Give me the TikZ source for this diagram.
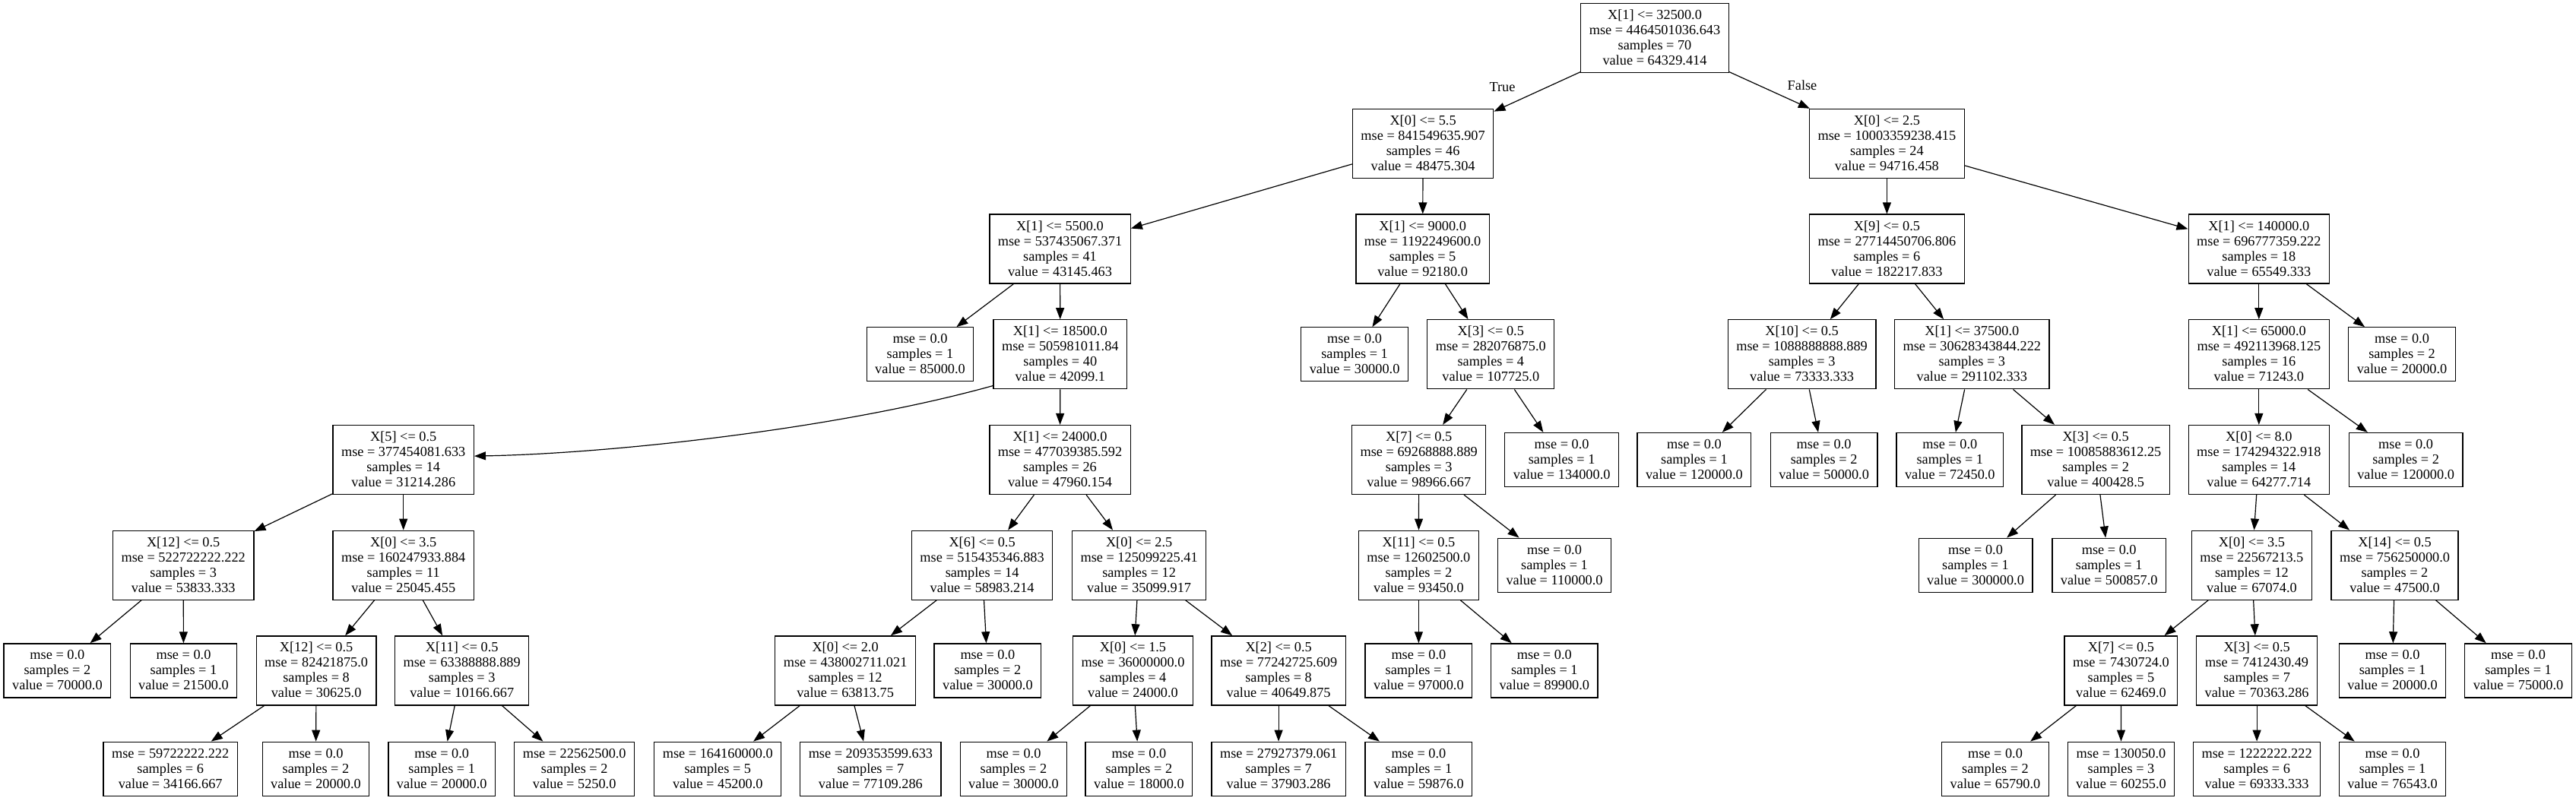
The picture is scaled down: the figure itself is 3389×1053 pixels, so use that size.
\documentclass[tikz,border=0pt]{standalone}
\usepackage{fontspec}
\setmainfont{Liberation Serif}
\usetikzlibrary{arrows.meta}
\newcommand\Ls{\rule[-4.5pt]{0pt}{20pt}}
\newcommand\QN[4]{\Ls #1\\\Ls #2\\\Ls #3\\\Ls #4}
\newcommand\LN[3]{\Ls #1\\\Ls #2\\\Ls #3}
\tikzset{
  tn/.style={draw, line width=1.3pt, rectangle, align=center, inner xsep=11pt, inner ysep=5.5pt,
    font=\fontsize{18.3}{20}\selectfont},
  conn/.style={-{Triangle[length=15pt,width=11pt]}, line width=1.2pt},
  lbl/.style={font=\fontsize{18.3}{20}\selectfont, inner sep=0pt},
}
\begin{document}
\begin{tikzpicture}[x=1pt,y=-1pt]
\path[use as bounding box, fill=white] (0,0) rectangle (3389,1053);
% rank 0
\node[tn] (n0) at (2177,50.2) {\QN{X[1] <= 32500.0}{mse = 4464501036.643}{samples = 70}{value = 64329.414}};
% rank 1
\node[tn] (n1) at (1872.1,188.9) {\QN{X[0] <= 5.5}{mse = 841549635.907}{samples = 46}{value = 48475.304}};
\node[tn] (n2) at (2482.4,188.9) {\QN{X[0] <= 2.5}{mse = 10003359238.415}{samples = 24}{value = 94716.458}};
% rank 2
\node[tn] (n3) at (1394.5,327.6) {\QN{X[1] <= 5500.0}{mse = 537435067.371}{samples = 41}{value = 43145.463}};
\node[tn] (n4) at (1871.6,327.6) {\QN{X[1] <= 9000.0}{mse = 1192249600.0}{samples = 5}{value = 92180.0}};
\node[tn] (n5) at (2482.4,327.6) {\QN{X[9] <= 0.5}{mse = 27714450706.806}{samples = 6}{value = 182217.833}};
\node[tn] (n6) at (2971.8,327.6) {\QN{X[1] <= 140000.0}{mse = 696777359.222}{samples = 18}{value = 65549.333}};
% rank 3
\node[tn] (n7) at (1210.5,466.3) {\LN{mse = 0.0}{samples = 1}{value = 85000.0}};
\node[tn] (n8) at (1394.8,466.3) {\QN{X[1] <= 18500.0}{mse = 505981011.84}{samples = 40}{value = 42099.1}};
\node[tn] (n9) at (1782.1,466.3) {\LN{mse = 0.0}{samples = 1}{value = 30000.0}};
\node[tn] (n10) at (1961.3,466.3) {\QN{X[3] <= 0.5}{mse = 282076875.0}{samples = 4}{value = 107725.0}};
\node[tn] (n11) at (2370.6,466.3) {\QN{X[10] <= 0.5}{mse = 1088888888.889}{samples = 3}{value = 73333.333}};
\node[tn] (n12) at (2594.3,466.3) {\QN{X[1] <= 37500.0}{mse = 30628343844.222}{samples = 3}{value = 291102.333}};
\node[tn] (n13) at (2971.8,466.3) {\QN{X[1] <= 65000.0}{mse = 492113968.125}{samples = 16}{value = 71243.0}};
\node[tn] (n14) at (3160,466.3) {\LN{mse = 0.0}{samples = 2}{value = 20000.0}};
% rank 4
\node[tn] (n15) at (530.7,605) {\QN{X[5] <= 0.5}{mse = 377454081.633}{samples = 14}{value = 31214.286}};
\node[tn] (n16) at (1394.5,605) {\QN{X[1] <= 24000.0}{mse = 477039385.592}{samples = 26}{value = 47960.154}};
\node[tn] (n17) at (1866.7,605) {\QN{X[7] <= 0.5}{mse = 69268888.889}{samples = 3}{value = 98966.667}};
\node[tn] (n18) at (2054.6,605) {\LN{mse = 0.0}{samples = 1}{value = 134000.0}};
\node[tn] (n19) at (2228.9,605) {\LN{mse = 0.0}{samples = 1}{value = 120000.0}};
\node[tn] (n20) at (2399.6,605) {\LN{mse = 0.0}{samples = 2}{value = 50000.0}};
\node[tn] (n21) at (2565.3,605) {\LN{mse = 0.0}{samples = 1}{value = 72450.0}};
\node[tn] (n22) at (2757.1,605) {\QN{X[3] <= 0.5}{mse = 10085883612.25}{samples = 2}{value = 400428.5}};
\node[tn] (n23) at (2971.8,605) {\QN{X[0] <= 8.0}{mse = 174294322.918}{samples = 14}{value = 64277.714}};
\node[tn] (n24) at (3165.1,605) {\LN{mse = 0.0}{samples = 2}{value = 120000.0}};
% rank 5
\node[tn] (n25) at (241.2,743.7) {\QN{X[12] <= 0.5}{mse = 522722222.222}{samples = 3}{value = 53833.333}};
\node[tn] (n26) at (530.7,743.7) {\QN{X[0] <= 3.5}{mse = 160247933.884}{samples = 11}{value = 25045.455}};
\node[tn] (n27) at (1292.1,743.7) {\QN{X[6] <= 0.5}{mse = 515435346.883}{samples = 14}{value = 58983.214}};
\node[tn] (n28) at (1498.6,743.7) {\QN{X[0] <= 2.5}{mse = 125099225.41}{samples = 12}{value = 35099.917}};
\node[tn] (n29) at (1866.4,743.7) {\QN{X[11] <= 0.5}{mse = 12602500.0}{samples = 2}{value = 93450.0}};
\node[tn] (n30) at (2045,743.7) {\LN{mse = 0.0}{samples = 1}{value = 110000.0}};
\node[tn] (n31) at (2599,743.7) {\LN{mse = 0.0}{samples = 1}{value = 300000.0}};
\node[tn] (n32) at (2774.7,743.7) {\LN{mse = 0.0}{samples = 1}{value = 500857.0}};
\node[tn] (n33) at (2962.4,743.7) {\QN{X[0] <= 3.5}{mse = 22567213.5}{samples = 12}{value = 67074.0}};
\node[tn] (n34) at (3150.5,743.7) {\QN{X[14] <= 0.5}{mse = 756250000.0}{samples = 2}{value = 47500.0}};
% rank 6
\node[tn] (n35) at (75.4,882.4) {\LN{mse = 0.0}{samples = 2}{value = 70000.0}};
\node[tn] (n36) at (241.5,882.4) {\LN{mse = 0.0}{samples = 1}{value = 21500.0}};
\node[tn] (n37) at (416.1,882.4) {\QN{X[12] <= 0.5}{mse = 82421875.0}{samples = 8}{value = 30625.0}};
\node[tn] (n38) at (607.7,882.4) {\QN{X[11] <= 0.5}{mse = 63388888.889}{samples = 3}{value = 10166.667}};
\node[tn] (n39) at (1112.1,882.4) {\QN{X[0] <= 2.0}{mse = 438002711.021}{samples = 12}{value = 63813.75}};
\node[tn] (n40) at (1299.4,882.4) {\LN{mse = 0.0}{samples = 2}{value = 30000.0}};
\node[tn] (n41) at (1490.5,882.4) {\QN{X[0] <= 1.5}{mse = 36000000.0}{samples = 4}{value = 24000.0}};
\node[tn] (n42) at (1682.1,882.4) {\QN{X[2] <= 0.5}{mse = 77242725.609}{samples = 8}{value = 40649.875}};
\node[tn] (n43) at (1866.4,882.4) {\LN{mse = 0.0}{samples = 1}{value = 97000.0}};
\node[tn] (n44) at (2031.8,882.4) {\LN{mse = 0.0}{samples = 1}{value = 89900.0}};
\node[tn] (n45) at (2790.4,882.4) {\QN{X[7] <= 0.5}{mse = 7430724.0}{samples = 5}{value = 62469.0}};
\node[tn] (n46) at (2969.1,882.4) {\QN{X[3] <= 0.5}{mse = 7412430.49}{samples = 7}{value = 70363.286}};
\node[tn] (n47) at (3147.5,882.4) {\LN{mse = 0.0}{samples = 1}{value = 20000.0}};
\node[tn] (n48) at (3313,882.4) {\LN{mse = 0.0}{samples = 1}{value = 75000.0}};
% rank 7
\node[tn] (n49) at (224.2,1011.7) {\LN{mse = 59722222.222}{samples = 6}{value = 34166.667}};
\node[tn] (n50) at (415.5,1011.7) {\LN{mse = 0.0}{samples = 2}{value = 20000.0}};
\node[tn] (n51) at (581.2,1011.7) {\LN{mse = 0.0}{samples = 1}{value = 20000.0}};
\node[tn] (n52) at (755.7,1011.7) {\LN{mse = 22562500.0}{samples = 2}{value = 5250.0}};
\node[tn] (n53) at (944.3,1011.7) {\LN{mse = 164160000.0}{samples = 5}{value = 45200.0}};
\node[tn] (n54) at (1145.4,1011.7) {\LN{mse = 209353599.633}{samples = 7}{value = 77109.286}};
\node[tn] (n55) at (1333.5,1011.7) {\LN{mse = 0.0}{samples = 2}{value = 30000.0}};
\node[tn] (n56) at (1498.4,1011.7) {\LN{mse = 0.0}{samples = 2}{value = 18000.0}};
\node[tn] (n57) at (1682.1,1011.7) {\LN{mse = 27927379.061}{samples = 7}{value = 37903.286}};
\node[tn] (n58) at (1866.4,1011.7) {\LN{mse = 0.0}{samples = 1}{value = 59876.0}};
\node[tn] (n59) at (2625,1011.7) {\LN{mse = 0.0}{samples = 2}{value = 65790.0}};
\node[tn] (n60) at (2790.5,1011.7) {\LN{mse = 130050.0}{samples = 3}{value = 60255.0}};
\node[tn] (n61) at (2969.1,1011.7) {\LN{mse = 1222222.222}{samples = 6}{value = 69333.333}};
\node[tn] (n62) at (3147.5,1011.7) {\LN{mse = 0.0}{samples = 1}{value = 76543.0}};
% labels
\node[lbl] (lt) at (1976.5,114.3) {True};
\node[lbl] (lf) at (2371,112.7) {False};
% edges
\draw[conn] (n0) -- (n1);
\draw[conn] (n0) -- (n2);
\draw[conn] (n1) -- (n3);
\draw[conn] (n1) -- (n4);
\draw[conn] (n3) -- (n7);
\draw[conn] (n3) -- (n8);
\draw[conn] (n8.205) .. controls (1100,565) and (800,597) .. (n15.3);
\draw[conn] (n8) -- (n16);
\draw[conn] (n15) -- (n25);
\draw[conn] (n15) -- (n26);
\draw[conn] (n25) -- (n35);
\draw[conn] (n25) -- (n36);
\draw[conn] (n26) -- (n37);
\draw[conn] (n26) -- (n38);
\draw[conn] (n37) -- (n49);
\draw[conn] (n37) -- (n50);
\draw[conn] (n38) -- (n51);
\draw[conn] (n38) -- (n52);
\draw[conn] (n16) -- (n27);
\draw[conn] (n16) -- (n28);
\draw[conn] (n27) -- (n39);
\draw[conn] (n27) -- (n40);
\draw[conn] (n39) -- (n53);
\draw[conn] (n39) -- (n54);
\draw[conn] (n28) -- (n41);
\draw[conn] (n28) -- (n42);
\draw[conn] (n41) -- (n55);
\draw[conn] (n41) -- (n56);
\draw[conn] (n42) -- (n57);
\draw[conn] (n42) -- (n58);
\draw[conn] (n4) -- (n9);
\draw[conn] (n4) -- (n10);
\draw[conn] (n10) -- (n17);
\draw[conn] (n10) -- (n18);
\draw[conn] (n17) -- (n29);
\draw[conn] (n17) -- (n30);
\draw[conn] (n29) -- (n43);
\draw[conn] (n29) -- (n44);
\draw[conn] (n2) -- (n5);
\draw[conn] (n2) -- (n6);
\draw[conn] (n5) -- (n11);
\draw[conn] (n5) -- (n12);
\draw[conn] (n11) -- (n19);
\draw[conn] (n11) -- (n20);
\draw[conn] (n12) -- (n21);
\draw[conn] (n12) -- (n22);
\draw[conn] (n22) -- (n31);
\draw[conn] (n22) -- (n32);
\draw[conn] (n6) -- (n13);
\draw[conn] (n6) -- (n14);
\draw[conn] (n13) -- (n23);
\draw[conn] (n13) -- (n24);
\draw[conn] (n23) -- (n33);
\draw[conn] (n23) -- (n34);
\draw[conn] (n33) -- (n45);
\draw[conn] (n33) -- (n46);
\draw[conn] (n45) -- (n59);
\draw[conn] (n45) -- (n60);
\draw[conn] (n46) -- (n61);
\draw[conn] (n46) -- (n62);
\draw[conn] (n34) -- (n47);
\draw[conn] (n34) -- (n48);
\end{tikzpicture}
\end{document}
